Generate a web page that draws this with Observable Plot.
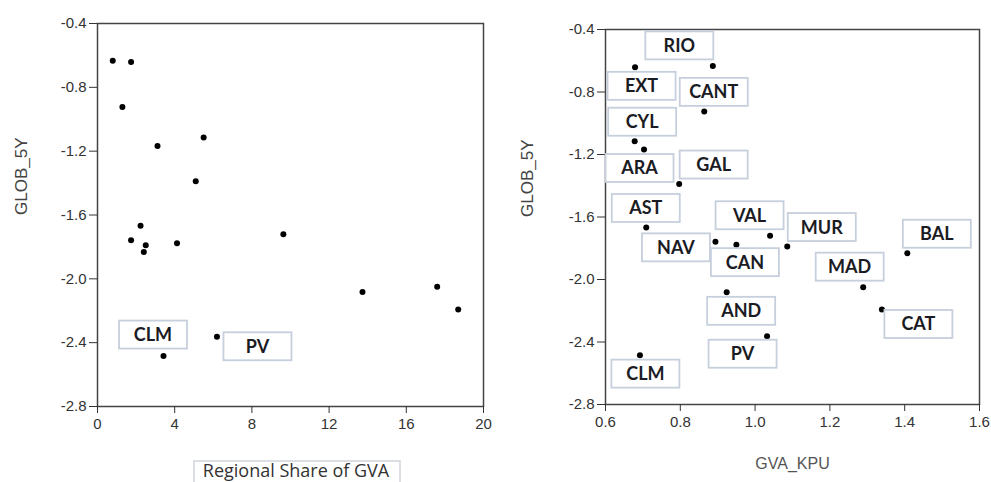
<!DOCTYPE html>
<html><head><meta charset="utf-8">
<script src="https://cdn.jsdelivr.net/npm/d3@7"></script>
<script src="https://cdn.jsdelivr.net/npm/@observablehq/plot@0.6"></script>
<style>
body{margin:0;background:#fff;}
#wrap{position:relative;width:991px;height:482px;overflow:hidden;background:#fff;}
#left,#right{position:absolute;top:0;}
#left{left:0}
#right{left:495px}
</style></head><body>
<div id="wrap"><div id="left"></div><div id="right"></div></div>
<script>
// ---- data ----
const regions  = ["RIO","EXT","CANT","CYL","ARA","GAL","AST","NAV","CAN","VAL","MUR","BAL","MAD","AND","CAT","PV","CLM"];
const glob5y   = [-0.633,-0.642,-0.924,-1.115,-1.168,-1.389,-1.667,-1.759,-1.777,-1.72,-1.789,-1.832,-2.049,-2.082,-2.192,-2.363,-2.484];
const gvaShare = [0.79,1.74,1.29,5.50,3.11,5.09,2.23,1.74,4.12,9.63,2.50,2.40,17.60,13.73,18.69,6.19,3.42];
const gvaKpu   = [0.887,0.679,0.864,0.678,0.703,0.797,0.709,0.894,0.950,1.040,1.086,1.407,1.289,0.924,1.339,1.032,0.692];
const yTicks     = [-0.4,-0.8,-1.2,-1.6,-2.0,-2.4,-2.8];
const shareTicks = [0,4,8,12,16,20];
const kpuTicks   = [0.6,0.8,1.0,1.2,1.4,1.6];
const leftLabelled = ["CLM","PV"];
const yTitle = "GLOB_5Y";
const leftXTitle = "Regional Share of GVA";
const rightXTitle = "GVA_KPU";

// ---- layout (label box offsets in px from each point) ----
const rightOffsets = {RIO:[-33,-20],EXT:[7,19],CANT:[10,-19],CYL:[8,-19],ARA:[-4,19],GAL:[35,-19],AST:[0,-19],NAV:[-39,6],CAN:[9,18],VAL:[-20,-20],MUR:[35,-19],BAL:[30,-19],MAD:[-13,-20],AND:[15,19],CAT:[37,15],PV:[-24,18],CLM:[6,19]};
const leftOffsets = {CLM:[-10,-21],PV:[41,10]};

const rows = regions.map((r,i)=>({region:r, share:gvaShare[i], kpu:gvaKpu[i], glob:glob5y[i]}));

function boxLabels(data, xField, offsets) {
  return Plot.text(data, {x: xField, y: "glob", text: "region",
    render(index, scales, values) {
      const g = d3.create("svg:g");
      for (const i of index) {
        const [dx, dy] = offsets[data[i].region];
        const cx = values.x[i] + dx, cy = values.y[i] + dy;
        g.append("rect").attr("x", cx - 34).attr("y", cy - 14).attr("width", 68).attr("height", 28)
          .attr("fill", "white").attr("stroke", "#c6cfdc").attr("stroke-width", 1.8);
        g.append("text").attr("x", cx).attr("y", cy).attr("dy", "0.36em")
          .attr("text-anchor", "middle").attr("font-family", "Lato, 'Open Sans', sans-serif")
          .attr("font-weight", 700).attr("font-size", 18).attr("fill", "#1b1b24")
          .text(data[i].region);
      }
      return g.node();
    }});
}

// boxed axis title (left chart)
function boxedTitle(label) {
  return Plot.text([label], {text: d => d, frameAnchor: "bottom",
    render(index, scales, values) {
      const g = d3.create("svg:g");
      const cx = 297, top = 461;
      g.append("rect").attr("x", cx - 103).attr("y", top).attr("width", 206).attr("height", 40)
        .attr("fill", "white").attr("stroke", "#d0d5dc").attr("stroke-width", 1.5);
      g.append("text").attr("x", cx - 1).attr("y", 477).attr("text-anchor", "middle")
        .attr("font-family", "'Open Sans', sans-serif").attr("font-size", 18).attr("fill", "#333")
        .text(label);
      return g.node();
    }});
}

const fmtY = d => d.toFixed(1);
const common = {
  height: 482,
  style: {fontFamily: "'Liberation Sans', Arial, sans-serif", fontSize: "15px", color: "#333", background: "white", overflow: "visible"},
  y: {domain: [-2.8, -0.4]}
};

const left = Plot.plot({
  ...common,
  width: 495, marginLeft: 97, marginRight: 12, marginTop: 23, marginBottom: 76,
  x: {domain: [0, 20]},
  marks: [
    Plot.frame({stroke: "#444", strokeWidth: 1.5}),
    Plot.axisX({ticks: shareTicks, tickSize: 7, tickPadding: 5, tickFormat: d => String(d), label: null, stroke: "#333"}),
    Plot.axisY({ticks: yTicks, tickSize: 8, tickPadding: 3, tickFormat: fmtY, label: null, stroke: "#333"}),
    Plot.dot(rows, {x: "share", y: "glob", r: 3, fill: "black", stroke: null}),
    boxLabels(rows.filter(d => leftLabelled.includes(d.region)), "share", leftOffsets),
    Plot.text([yTitle], {text: d => d, frameAnchor: "left", rotate: -90, dx: -76, fontSize: 17, fill: "#444"}),
    boxedTitle(leftXTitle)
  ]
});

const right = Plot.plot({
  ...common,
  width: 496, marginLeft: 110, marginRight: 12, marginTop: 29, marginBottom: 78,
  x: {domain: [0.6, 1.6]},
  marks: [
    Plot.frame({stroke: "#444", strokeWidth: 1.5}),
    Plot.axisX({ticks: kpuTicks, tickSize: 7, tickPadding: 5, tickFormat: d => d.toFixed(1), label: null, stroke: "#333"}),
    Plot.axisY({ticks: yTicks, tickSize: 8, tickPadding: 3, tickFormat: fmtY, label: null, stroke: "#333"}),
    Plot.dot(rows, {x: "kpu", y: "glob", r: 3, fill: "black", stroke: null}),
    boxLabels(rows, "kpu", rightOffsets),
    Plot.text([yTitle], {text: d => d, frameAnchor: "left", rotate: -90, dx: -78, fontSize: 17, fill: "#444"}),
    Plot.text([rightXTitle], {text: d => d, frameAnchor: "bottom", dy: 64, fontSize: 16, fill: "#555"})
  ]
});

document.getElementById("left").appendChild(left);
document.getElementById("right").appendChild(right);
</script>
</body></html>
